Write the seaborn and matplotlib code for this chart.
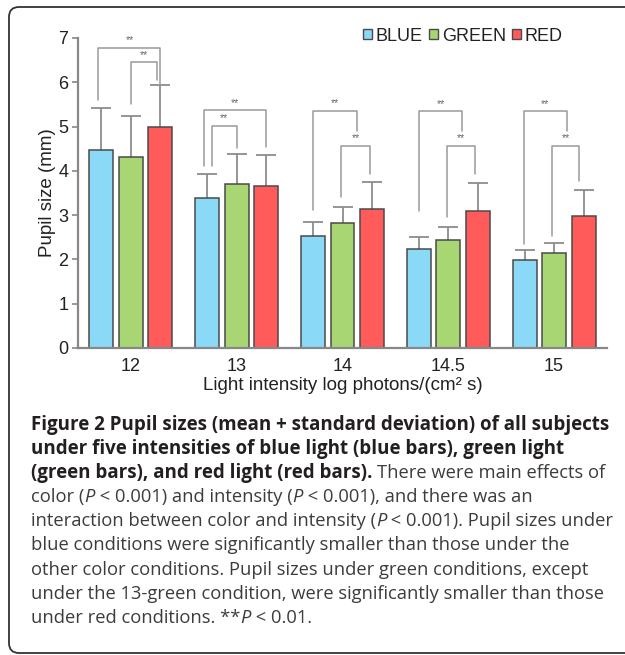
import matplotlib
matplotlib.use('Agg')
import numpy as np
import pandas as pd
import matplotlib.pyplot as plt
import seaborn as sns
from matplotlib.patches import FancyBboxPatch, Patch

# bar data: mean and standard deviation of pupil size (mm)
intensities = ['12', '13', '14', '14.5', '15']
light_colors = ['BLUE', 'GREEN', 'RED']
blue_mean = [4.48, 3.39, 2.54, 2.24, 1.98]
green_mean = [4.32, 3.70, 2.82, 2.45, 2.14]
red_mean = [5.00, 3.65, 3.14, 3.10, 2.99]
blue_sd = [0.95, 0.54, 0.30, 0.26, 0.23]
green_sd = [0.93, 0.68, 0.36, 0.28, 0.24]
red_sd = [0.94, 0.70, 0.60, 0.63, 0.58]

palette = ['#8AD9F6', '#A8D672', '#FF5B5B']

# significance brackets (** P < 0.01)
# position in bar slots around the group centre: -1 blue, 0 green, 1 red
br_group = [0, 0, 1, 1, 2, 2, 3, 3, 4, 4]
br_left = [-1.1, 0.0, -1.1, -0.85, -1.0, -0.04, -0.98, -0.04, -1.03, -0.08]
br_right = [1.0, 0.88, 1.0, 0.0, 0.48, 0.93, 0.47, 0.92, 0.43, 0.86]
br_top = [6.78, 6.46, 5.37, 5.02, 5.36, 4.57, 5.35, 4.57, 5.35, 4.57]
br_left_low = [5.60, 5.51, 4.12, 4.12, 3.11, 3.42, 3.10, 2.96, 2.35, 2.54]
br_right_low = [5.94, 6.05, 4.54, 4.51, 4.90, 3.93, 4.89, 3.93, 4.89, 3.78]

# caption, one list of (text, style) runs per line
caption = [
    [('Figure 2 Pupil sizes (mean + standard deviation) of all subjects', 'b')],
    [('under five intensities of blue light (blue bars), green light', 'b')],
    [('(green bars), and red light (red bars). ', 'b'), ('There were main effects of', 'n')],
    [('color (', 'n'), ('P', 'i'), (' < 0.001) and intensity (', 'n'), ('P', 'i'),
     (' < 0.001), and there was an', 'n')],
    [('interaction between color and intensity (', 'n'), ('P', 'i'),
     (' < 0.001). Pupil sizes under', 'n')],
    [('blue conditions were significantly smaller than those under the', 'n')],
    [('other color conditions. Pupil sizes under green conditions, except', 'n')],
    [('under the 13-green condition, were significantly smaller than those', 'n')],
    [('under red conditions. **', 'n'), ('P', 'i'), (' < 0.01.', 'n')],
]

W, H = 625, 655

df = pd.DataFrame({
    'intensity': intensities * 3,
    'color': np.repeat(light_colors, len(intensities)),
    'mean': blue_mean + green_mean + red_mean,
    'sd': blue_sd + green_sd + red_sd,
})

sns.set_style('ticks')
plt.rcParams['font.family'] = ['Liberation Sans', 'DejaVu Sans']

fig = plt.figure(figsize=(W / 100, H / 100), dpi=100)
ax = fig.add_axes([78 / W, 1 - 348 / H, 529 / W, 310 / H])

sns.barplot(data=df, x='intensity', y='mean', hue='color', palette=palette,
            saturation=1, width=0.837, gap=0.19, errorbar=None,
            edgecolor='#4a4a4a', linewidth=1.1, ax=ax, zorder=2)

# upward error bars (mean + SD), lower half hidden behind the bars
sds = [blue_sd, green_sd, red_sd]
centers = []
for cont, sd in zip(ax.containers, sds):
    xs = [b.get_x() + b.get_width() / 2 for b in cont]
    ys = [b.get_height() for b in cont]
    centers.append(xs)
    ax.errorbar(xs, ys, yerr=sd, fmt='none', ecolor='#8c8c8c',
                elinewidth=1.3, capsize=7, capthick=1.3, zorder=1)

slot = centers[1][0] - centers[0][0]
for g, xl, xr, top, lo_l, lo_r in zip(br_group, br_left, br_right, br_top,
                                      br_left_low, br_right_low):
    x0 = centers[1][g] + xl * slot
    x1 = centers[1][g] + xr * slot
    ax.plot([x0, x0, x1, x1], [lo_l, top, top, lo_r], color='#9a9a9a', lw=1.1,
            zorder=3)
    ax.text((x0 + x1) / 2, top + 0.05, '**', ha='center', va='bottom',
            fontsize=7.5, color='#666666')

ax.set_xlim(-0.5, 4.5)
ax.set_ylim(0, 7)
ax.set_yticks(range(8))
sns.despine(ax=ax)
for side in ['left', 'bottom']:
    ax.spines[side].set_color('#888888')
    ax.spines[side].set_linewidth(1.6)
ax.tick_params(axis='y', length=4, width=1.2, color='#888888', labelsize=13,
               labelcolor='#222222', pad=3)
ax.tick_params(axis='x', length=0, labelsize=13, labelcolor='#222222', pad=7)
ax.set_xlabel('Light intensity log photons/(cm² s)', fontsize=13.5, color='#222222',
              labelpad=2)
ax.set_ylabel('Pupil size (mm)', fontsize=13.5, color='#222222', labelpad=1.5)

handles = [Patch(facecolor=c, edgecolor='#4a4a4a', lw=1) for c in palette]
ax.legend(handles, light_colors, ncol=3, frameon=False, loc='center',
          bbox_to_anchor=(0.728, 1.006), fontsize=13, handlelength=0.5,
          handleheight=0.5, handletextpad=0.2, columnspacing=0.35,
          borderpad=0, labelcolor='#222222')

# rounded frame around the figure
fig.patches.append(FancyBboxPatch((0.09, 0.02), 6.5, 6.46,
                                  boxstyle='round,pad=0,rounding_size=0.1',
                                  transform=fig.dpi_scale_trans, fill=False,
                                  edgecolor='#333333', lw=1.3))

# caption
styles = {
    'b': dict(family='Open Sans', weight='bold', size=13.5, color='#231f20'),
    'n': dict(family='Open Sans', weight='normal', size=13.2, color='#3c3c3c'),
    'i': dict(family='Open Sans', weight='normal', style='italic', size=13.2,
              color='#3c3c3c'),
}
renderer = fig.canvas.get_renderer()


def text_width(s, st):
    t = fig.text(0, 0, s, **styles[st])
    w = t.get_window_extent(renderer).width
    t.remove()
    return w


for i, line in enumerate(caption):
    x = 31
    y = 430 + 24.1 * i
    for txt, st in line:
        fig.text(x / W, 1 - y / H, txt, ha='left', va='baseline', **styles[st])
        x += text_width(txt + '|', st) - text_width('|', st)

fig.savefig('out.png', dpi=100)
